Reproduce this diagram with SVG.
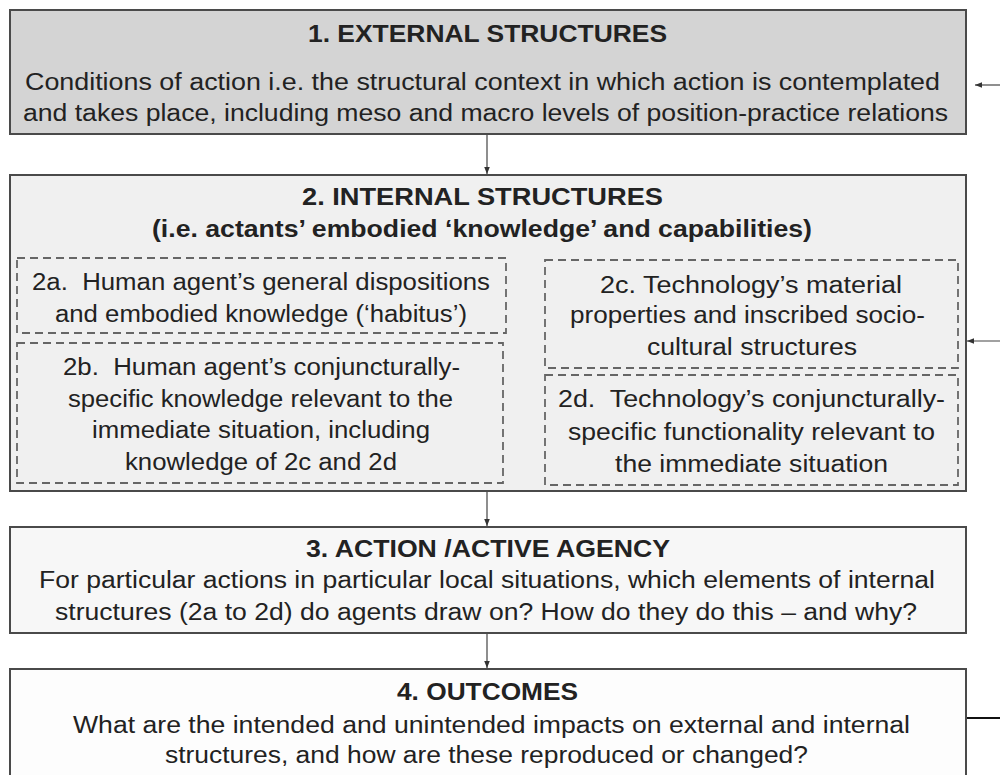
<svg xmlns="http://www.w3.org/2000/svg" width="1000" height="775" viewBox="0 0 1000 775">
<defs>
<style>
text{font-family:"Liberation Sans",Arial,sans-serif;fill:#222;text-anchor:middle}
.t{font-weight:bold;font-size:23px}
.b{font-size:23px}
.box{stroke:#4a4a4a;stroke-width:2}
.dash{fill:none;stroke:#666;stroke-width:1.8;stroke-dasharray:8 5}
.con{stroke:#444;stroke-width:1.2;fill:none}
</style>
<marker id="ah" viewBox="0 0 10 10" refX="10" refY="5" markerWidth="7" markerHeight="7" orient="auto" markerUnits="userSpaceOnUse">
<path d="M0,1 L10,5 L0,9 Z" fill="#333"/>
</marker>
</defs>
<rect width="1000" height="775" fill="#fff"/>
<g id="n1">
<rect class="box" x="10" y="10" width="956" height="124" fill="#d4d4d4"/>
<text class="t" x="487.5" y="42" textLength="359" lengthAdjust="spacingAndGlyphs">1. EXTERNAL STRUCTURES</text>
<text class="b" x="482.5" y="90" textLength="915" lengthAdjust="spacingAndGlyphs">Conditions of action i.e. the structural context in which action is contemplated</text>
<text class="b" x="485.5" y="121" textLength="925" lengthAdjust="spacingAndGlyphs">and takes place, including meso and macro levels of position-practice relations</text>
</g>
<g id="n2">
<rect class="box" x="10" y="175" width="956" height="316" fill="#f0f0f0"/>
<text class="t" x="482.5" y="205" textLength="361" lengthAdjust="spacingAndGlyphs">2. INTERNAL STRUCTURES</text>
<text class="t" x="482" y="237" textLength="660" lengthAdjust="spacingAndGlyphs">(i.e. actants’ embodied ‘knowledge’ and capabilities)</text>
</g>
<g id="n2a">
<rect class="dash" x="17" y="258" width="489" height="75"/>
<text class="b" x="261" y="290" textLength="458" lengthAdjust="spacingAndGlyphs">2a.&#160; Human agent’s general dispositions</text>
<text class="b" x="261" y="322" textLength="412" lengthAdjust="spacingAndGlyphs">and embodied knowledge (‘habitus’)</text>
</g>
<g id="n2b">
<rect class="dash" x="17" y="343" width="486" height="140"/>
<text class="b" x="261.5" y="375" textLength="397" lengthAdjust="spacingAndGlyphs">2b.&#160; Human agent’s conjuncturally-</text>
<text class="b" x="260.5" y="407" textLength="385" lengthAdjust="spacingAndGlyphs">specific knowledge relevant to the</text>
<text class="b" x="261" y="438" textLength="338" lengthAdjust="spacingAndGlyphs">immediate situation, including</text>
<text class="b" x="261" y="470" textLength="272" lengthAdjust="spacingAndGlyphs">knowledge of 2c and 2d</text>
</g>
<g id="n2c">
<rect class="dash" x="545" y="260" width="413" height="108"/>
<text class="b" x="751" y="293" textLength="302" lengthAdjust="spacingAndGlyphs">2c. Technology’s material</text>
<text class="b" x="747.5" y="323" textLength="355" lengthAdjust="spacingAndGlyphs">properties and inscribed socio-</text>
<text class="b" x="752" y="355" textLength="210" lengthAdjust="spacingAndGlyphs">cultural structures</text>
</g>
<g id="n2d">
<rect class="dash" x="545" y="375" width="413" height="110"/>
<text class="b" x="751.5" y="407" textLength="387" lengthAdjust="spacingAndGlyphs">2d.&#160; Technology’s conjuncturally-</text>
<text class="b" x="751.5" y="440" textLength="367" lengthAdjust="spacingAndGlyphs">specific functionality relevant to</text>
<text class="b" x="751.5" y="472" textLength="273" lengthAdjust="spacingAndGlyphs">the immediate situation</text>
</g>
<g id="n3">
<rect class="box" x="10" y="527" width="956" height="106" fill="#f7f7f7"/>
<text class="t" x="488" y="557" textLength="364" lengthAdjust="spacingAndGlyphs">3. ACTION /ACTIVE AGENCY</text>
<text class="b" x="487" y="588" textLength="896" lengthAdjust="spacingAndGlyphs">For particular actions in particular local situations, which elements of internal</text>
<text class="b" x="486" y="620" textLength="862" lengthAdjust="spacingAndGlyphs">structures (2a to 2d) do agents draw on? How do they do this – and why?</text>
</g>
<g id="n4">
<rect class="box" x="10" y="669" width="956" height="120" fill="#fdfdfd"/>
<text class="t" x="487.5" y="700" textLength="181" lengthAdjust="spacingAndGlyphs">4. OUTCOMES</text>
<text class="b" x="491.5" y="733" textLength="837" lengthAdjust="spacingAndGlyphs">What are the intended and unintended impacts on external and internal</text>
<text class="b" x="486.5" y="763" textLength="643" lengthAdjust="spacingAndGlyphs">structures, and how are these reproduced or changed?</text>
</g>
<g id="connectors">
<line class="con" x1="487" y1="135" x2="487" y2="174" marker-end="url(#ah)"/>
<line class="con" x1="487" y1="492" x2="487" y2="526" marker-end="url(#ah)"/>
<line class="con" x1="487" y1="634" x2="487" y2="668" marker-end="url(#ah)"/>
<line class="con" x1="1000" y1="85" x2="975" y2="85" marker-end="url(#ah)"/>
<line class="con" x1="1000" y1="341" x2="967" y2="341" marker-end="url(#ah)"/>
<line x1="967" y1="718" x2="1000" y2="718" stroke="#111" stroke-width="2.2"/>
</g>
</svg>
